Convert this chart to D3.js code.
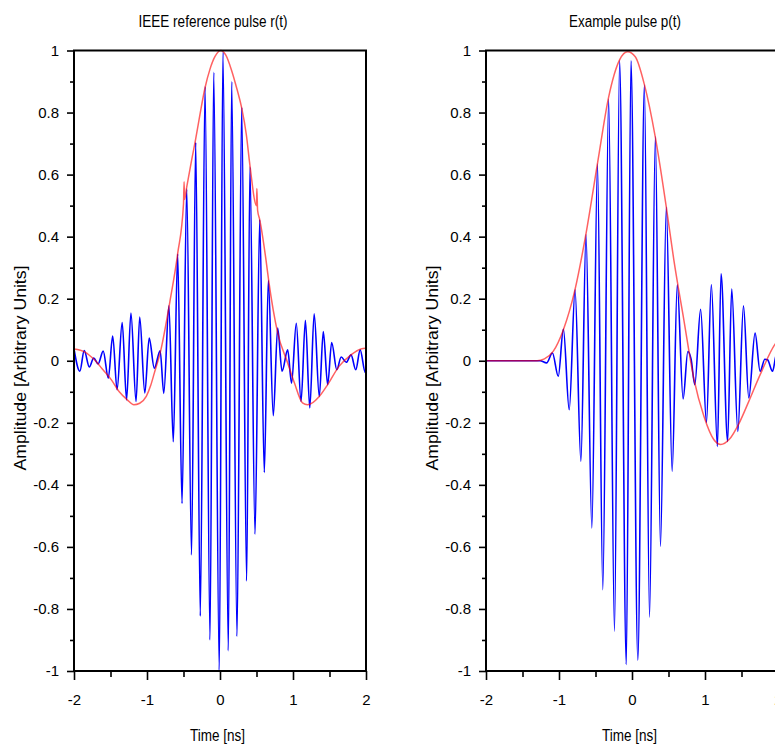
<!DOCTYPE html>
<html>
<head>
<meta charset="utf-8">
<script src="https://cdn.jsdelivr.net/npm/d3@7"></script>
<style>
  body { margin: 0; background: #fff; }
  text { font-family: "Liberation Sans", Arial, sans-serif; fill: #000; }
</style>
</head>
<body>
<svg id="chart" width="775" height="744"></svg>
<script>
// ---- data ----
const xTickVals = [-2, -1, 0, 1, 2];
const xTickLabels = ["-2", "-1", "0", "1", "2"];
const xMinorVals = [-1.5, -0.5, 0.5, 1.5];
const yTickVals = [-1, -0.8, -0.6, -0.4, -0.2, 0, 0.2, 0.4, 0.6, 0.8, 1];
const yTickLabels = ["-1", "-0.8", "-0.6", "-0.4", "-0.2", "0", "0.2", "0.4", "0.6", "0.8", "1"];
const yMinorVals = [-0.9, -0.7, -0.5, -0.3, -0.1, 0.1, 0.3, 0.5, 0.7, 0.9];

// IEEE reference pulse r(t): signal extrema (time in ns, amplitude)
const refTime = [-2.00, -1.92, -1.86, -1.79, -1.73, -1.67, -1.60, -1.53, -1.47, -1.41,
  -1.34, -1.28, -1.22, -1.15, -1.10, -1.03, -0.97, -0.90, -0.82, -0.77,
  -0.70, -0.64, -0.58, -0.52, -0.456, -0.39, -0.333, -0.27, -0.205, -0.137,
  -0.086, -0.01, 0.04, 0.114, 0.16, 0.233, 0.297, 0.365, 0.41, 0.48,
  0.544, 0.607, 0.662, 0.73, 0.79, 0.85, 0.927, 0.98, 1.045, 1.11,
  1.17, 1.23, 1.29, 1.36, 1.415, 1.475, 1.53, 1.60, 1.66, 1.73,
  1.795, 1.86, 1.92, 1.99, 2.00];
const refValue = [0.038, -0.034, 0.033, -0.020, 0.009, -0.010, 0.031, -0.056, 0.080, -0.093,
  0.123, -0.126, 0.154, -0.131, 0.141, -0.104, 0.073, -0.024, 0.032, -0.105,
  0.177, -0.261, 0.344, -0.460, 0.554, -0.626, 0.704, -0.823, 0.884, -0.900,
  0.930, -0.998, 0.995, -0.935, 0.900, -0.889, 0.817, -0.710, 0.624, -0.559,
  0.455, -0.360, 0.259, -0.177, 0.105, -0.034, 0.035, -0.072, 0.121, -0.131,
  0.130, -0.152, 0.151, -0.115, 0.094, -0.077, 0.059, -0.029, 0.012, -0.005,
  0.019, -0.029, 0.035, -0.038, -0.020];
// its envelope
const refEnvTime = [-2.00, -1.85, -1.72, -1.60, -1.49, -1.38, -1.27, -1.18, -1.10, -1.01,
  -0.95, -0.90, -0.81, -0.69, -0.58, -0.50, -0.492, -0.485, -0.456, -0.39,
  -0.333, -0.27, -0.205, -0.137, -0.07, 0.01, 0.08, 0.16, 0.233, 0.297,
  0.36, 0.41, 0.50, 0.505, 0.515, 0.544, 0.63, 0.667, 0.79, 0.927,
  1.02, 1.13, 1.20, 1.36, 1.475, 1.63, 1.795, 1.93, 2.00];
const refEnvValue = [0.038, 0.028, 0.003, -0.030, -0.061, -0.100, -0.126, -0.142, -0.137, -0.115,
  -0.080, -0.040, 0.035, 0.186, 0.345, 0.505, 0.577, 0.520, 0.560, 0.645,
  0.715, 0.800, 0.880, 0.940, 0.980, 1.000, 0.985, 0.935, 0.875, 0.815,
  0.730, 0.630, 0.500, 0.555, 0.485, 0.455, 0.325, 0.258, 0.090, -0.007,
  -0.072, -0.136, -0.142, -0.115, -0.077, -0.018, 0.019, 0.038, 0.040];

// Example pulse p(t)
const exTime = [-2.00, -1.26, -1.17, -1.09, -1.01, -0.94, -0.86, -0.78, -0.70, -0.63,
  -0.55, -0.473, -0.40, -0.32, -0.24, -0.17, -0.078, -0.014, 0.08, 0.17,
  0.24, 0.32, 0.39, 0.47, 0.55, 0.62, 0.70, 0.765, 0.81, 0.86,
  0.94, 1.02, 1.087, 1.17, 1.22, 1.31, 1.366, 1.45, 1.527, 1.60,
  1.686, 1.755, 1.82, 1.857, 1.925, 1.97, 2.00];
const exValue = [0, 0, -0.007, 0.025, -0.050, 0.102, -0.158, 0.229, -0.324, 0.406,
  -0.539, 0.634, -0.738, 0.843, -0.872, 0.967, -0.979, 0.967, -0.965, 0.889,
  -0.826, 0.722, -0.598, 0.495, -0.356, 0.245, -0.123, 0.030, 0.005, -0.077,
  0.166, -0.199, 0.245, -0.276, 0.280, -0.260, 0.231, -0.228, 0.177, -0.120,
  0.089, -0.034, 0.005, 0.003, -0.034, 0.014, 0.030];
const exEnvTime = [-2.00, -1.30, -1.20, -1.08, -0.94, -0.78, -0.63, -0.47, -0.32, -0.17,
  -0.06, 0.045, 0.17, 0.32, 0.47, 0.573, 0.71, 0.85, 0.985, 1.12,
  1.215, 1.33, 1.47, 1.60, 1.765, 1.97, 2.00];
const exEnvValue = [0, 0, 0.006, 0.030, 0.100, 0.230, 0.410, 0.640, 0.850, 0.970,
  0.996, 0.980, 0.890, 0.720, 0.495, 0.325, 0.132, -0.061, -0.179, -0.254,
  -0.270, -0.254, -0.200, -0.131, -0.040, 0.057, 0.065];

const zip = (a, b) => a.map((d, i) => [d, b[i]]);

const svg = d3.select("#chart");

function panel(left, title, titleLen, signal, envelope) {
  const top = 50.5, width = 292, height = 620.5;
  const g = svg.append("g").attr("transform", `translate(${left},${top})`);

  const x = d3.scaleLinear([-2, 2], [0, width]);
  const y = d3.scaleLinear([-1, 1], [height, 0]);

  // minor ticks first, then major ticks with labels
  g.append("g").attr("transform", `translate(0,${height})`)
    .call(d3.axisBottom(x).tickValues(xMinorVals).tickSize(6).tickFormat(""));
  g.append("g").call(d3.axisLeft(y).tickValues(yMinorVals).tickSize(4).tickFormat(""));

  g.append("g").attr("class", "xaxis").attr("transform", `translate(0,${height})`)
    .call(d3.axisBottom(x).tickValues(xTickVals).tickSize(9).tickPadding(14)
      .tickFormat((d, i) => xTickLabels[i]));
  g.append("g").attr("class", "yaxis")
    .call(d3.axisLeft(y).tickValues(yTickVals).tickSize(7).tickPadding(8)
      .tickFormat((d, i) => yTickLabels[i]));

  g.selectAll(".domain").remove();
  g.selectAll(".tick line").attr("stroke", "#000").attr("stroke-width", 1.6);
  g.selectAll(".tick text").style("font-size", "15px")
    .style("font-family", "'Liberation Sans', Arial, sans-serif");

  const line = d3.line().x(d => x(d[0])).y(d => y(d[1])).curve(d3.curveMonotoneX);

  g.append("path").datum(signal)
    .attr("fill", "none").attr("stroke", "#0000ff").attr("stroke-width", 1.6)
    .attr("d", line);
  g.append("path").datum(envelope)
    .attr("fill", "none").attr("stroke", "#ff0000").attr("stroke-opacity", 0.62)
    .attr("stroke-width", 1.5).attr("d", line);

  g.append("rect").attr("width", width).attr("height", height)
    .attr("fill", "none").attr("stroke", "#000").attr("stroke-width", 2);

  g.append("text").attr("x", 139).attr("y", 27 - top)
    .attr("text-anchor", "middle").style("font-size", "16px")
    .attr("textLength", titleLen).attr("lengthAdjust", "spacingAndGlyphs")
    .text(title);

  g.append("text").attr("x", 143.5).attr("y", 741 - top)
    .attr("text-anchor", "middle").style("font-size", "16px")
    .attr("textLength", 55).attr("lengthAdjust", "spacingAndGlyphs")
    .text("Time [ns]");

  g.append("text")
    .attr("transform", `translate(-54,${368 - top}) rotate(-90)`)
    .attr("dy", "0.35em").attr("text-anchor", "middle").style("font-size", "17px")
    .attr("textLength", 205).attr("lengthAdjust", "spacingAndGlyphs")
    .text("Amplitude [Arbitrary Units]");
}

panel(74, "IEEE reference pulse r(t)", 149, zip(refTime, refValue), zip(refEnvTime, refEnvValue));
panel(486, "Example pulse p(t)", 112, zip(exTime, exValue), zip(exEnvTime, exEnvValue));
</script>
</body>
</html>
